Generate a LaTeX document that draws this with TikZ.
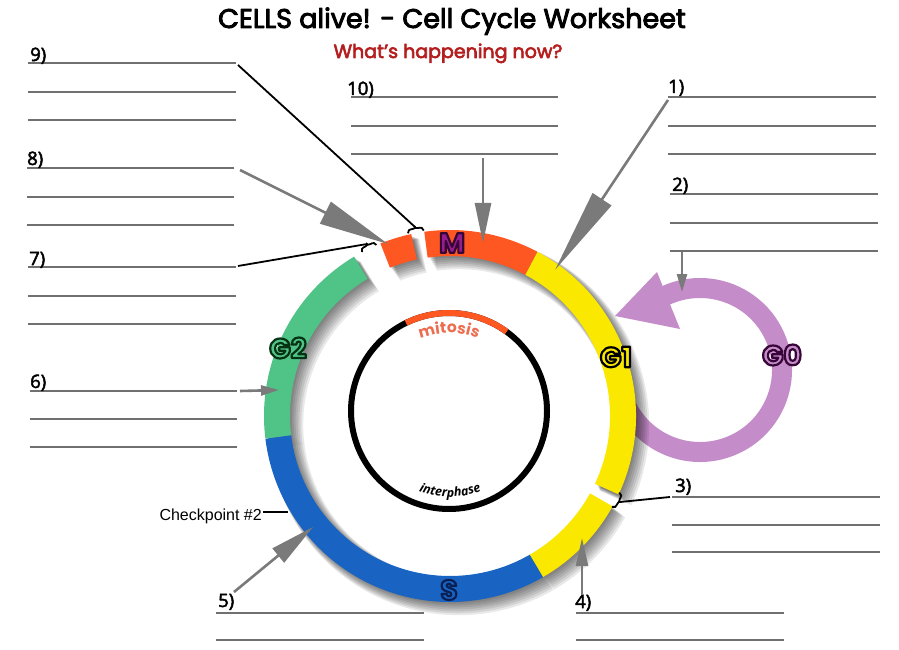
\documentclass[tikz,border=0pt]{standalone}
\usepackage{fontspec}
\setmainfont{Open Sans}
\newfontfamily\titlefont{Poppins}
\newfontfamily\numfont{Open Sans}
\newfontfamily\cpfont{Liberation Sans}
\usetikzlibrary{arrows.meta,decorations.text,calc}

\definecolor{ringY}{RGB}{250,232,0}
\definecolor{ringM}{RGB}{255,87,34}
\definecolor{ringG}{RGB}{80,196,135}
\definecolor{ringB}{RGB}{25,100,195}
\definecolor{ringP}{RGB}{196,140,200}
\definecolor{lineGray}{RGB}{112,112,112}
\definecolor{arrowGray}{RGB}{122,122,122}
\definecolor{subRed}{RGB}{180,30,30}
\definecolor{mitoOrange}{RGB}{235,110,80}
\definecolor{tagPurple}{RGB}{150,30,140}

% text painted with fill and a stroked outline: stroke rgb, stroke width, text
\newcommand\outlined[3]{%
  \special{pdf:literal direct #1 RG #2 w 1 j 2 Tr}#3\special{pdf:literal direct 0 Tr}}

\tikzset{
  ansline/.style={draw=lineGray, line width=1.6pt},
  numlbl/.style={anchor=base west, inner sep=0pt, text=black,
    font=\numfont\fontsize{18.5}{18.5}\selectfont},
  tag/.style={inner sep=0pt, font=\titlefont\bfseries\fontsize{28}{28}\selectfont},
  blackline/.style={draw=black, line width=1.8pt},
  ptr/.style 2 args={draw=arrowGray, line width=2.6pt,
    -{Triangle[length=#1,width=#2]}},
}

% small brace marking a gap in the ring, peak at #1, facing angle #2
\newcommand\gapbrace[2]{%
  \begin{scope}[shift={(#1)}, rotate=#2-90]
    \draw[blackline] (-8,-5) .. controls (-8,-2) and (-6,-1.5) .. (-2.5,-1.5)
      .. controls (-1,-1.5) and (0,-1) .. (0,0)
      .. controls (0,-1) and (1,-1.5) .. (2.5,-1.5)
      .. controls (6,-1.5) and (8,-2) .. (8,-5);
  \end{scope}}

\begin{document}
\begin{tikzpicture}[x=1pt,y=1pt]
\useasboundingbox (0,0) rectangle (899,649);
\fill[white] (0,0) rectangle (899,649);

% ---- headings
\node[anchor=base, inner sep=0pt, font=\titlefont\fontsize{27}{27}\selectfont]
  (title) at (452,621) {\outlined{0 0 0}{0.9}{CELLS alive! - Cell Cycle Worksheet}};
\node[anchor=base, inner sep=0pt, text=subRed, font=\titlefont\fontsize{19}{19}\selectfont]
  (subtitle) at (448,591) {\outlined{0.71 0.12 0.12}{0.6}{What’s happening now?}};

% ---- answer lines
\foreach \x/\xe/\ya/\yb/\yc in {28/236/586/557/529, 27/234/481/452/424,
    28/236/382/353/325, 30/237/258/230/202, 351/558/552/523/495,
    668/876/552/523/495, 670/878/455/426/398, 672/880/152/124/97}{
  \draw[ansline] (\x,\ya) -- (\xe,\ya);
  \draw[ansline] (\x,\yb) -- (\xe,\yb);
  \draw[ansline] (\x,\yc) -- (\xe,\yc);
}
\foreach \x/\xe in {576/784, 216/424}{
  \draw[ansline] (\x,36) -- (\xe,36);
  \draw[ansline] (\x,9) -- (\xe,9);
}

% ---- question numbers
\node[numlbl] (n9) at (30,588) {\outlined{0 0 0}{0.5}{9)}};
\node[numlbl] (n8) at (27,484) {\outlined{0 0 0}{0.5}{8)}};
\node[numlbl] (n7) at (29,384) {\outlined{0 0 0}{0.5}{7)}};
\node[numlbl] (n6) at (30,261) {\outlined{0 0 0}{0.5}{6)}};
\node[numlbl] (n10) at (347,554) {\outlined{0 0 0}{0.5}{10)}};
\node[numlbl] (n1) at (668,556) {\outlined{0 0 0}{0.5}{1)}};
\node[numlbl] (n2) at (672,458) {\outlined{0 0 0}{0.5}{2)}};
\node[numlbl] (n3) at (675,157) {\outlined{0 0 0}{0.5}{3)}};
\node[numlbl] (n4) at (575,41) {\outlined{0 0 0}{0.5}{4)}};
\node[numlbl] (n5) at (218,42) {\outlined{0 0 0}{0.5}{5)}};

% ---- G0 loop
\coordinate (g0c) at (700,279);
\draw[line width=20pt, ringP] ([shift={(200:82)}]g0c) arc[start angle=200, end angle=476, radius=82];
\coordinate (g0tip) at (615,333);
\coordinate (g0b1) at (657,377);
\coordinate (g0b2) at (680,320);
\fill[ringP] (g0tip) -- (g0b1) -- (g0b2) -- cycle;

% ---- main cycle ring, with a soft shadow to the lower right
\coordinate (ctr) at (450,233);
\foreach \k in {1,...,8}{
  \coordinate (sc) at ($(ctr)+(1.1*\k,-1.1*\k)$);
  \foreach \s/\e in {-25/62, 62/98, 102/112, 121/187, 187/300, 300/331}{
    \draw[line width=22pt+1.6*\k, black, opacity=0.085]
      ([shift={(\s:173)}]sc) arc[start angle=\s, end angle=\e, radius=173];
  }
}
\foreach \s/\e/\c in {-25/62/ringY, 62/98/ringM, 102/112/ringM, 121/187/ringG,
    187/300/ringB, 300/331/ringY}{
  \draw[line width=26pt, \c] ([shift={(\s:173)}]ctr) arc[start angle=\s, end angle=\e, radius=173];
}

% ---- inner cycle
\coordinate (ic) at (449,238);
\draw[line width=6pt, black] (ic) circle[radius=98];
\draw[line width=6pt, ringM] ([shift={(54:98)}]ic) arc[start angle=54, end angle=116, radius=98];
\path[decorate, decoration={text along path, text align=center, text color=mitoOrange,
    text={|\titlefont\bfseries\fontsize{15.5}{15.5}\selectfont|mitosis}}]
  ([shift={(114:78)}]ic) arc[start angle=114, end angle=66, radius=78];
\path[decorate, decoration={text along path, text align={fit to path}, text color=black,
    text={|\numfont\bfseries\itshape\fontsize{12.5}{12.5}\selectfont|interphase}}]
  ([shift={(249.5:86)}]ic) arc[start angle=249.5, end angle=290.5, radius=86];

% ---- phase names
\node[tag, text=tagPurple] (tM) at (452,406) {\outlined{0.22 0.02 0.22}{2.2}{M}};
\node[tag, text=ringG] (tG2) at (288,301) {\outlined{0.02 0.2 0.08}{2.2}{G2}};
\node[tag, text=ringY] (tG1) at (616,292) {\outlined{0 0 0}{2.2}{G1}};
\node[tag, text=ringB] (tS) at (449,59) {\outlined{0.04 0.12 0.33}{2.2}{S}};
\node[tag, text=ringP] (tG0) at (782,294) {\outlined{0.22 0.02 0.22}{2.2}{G0}};

% ---- black markers for the gaps
\coordinate (a9) at (238,584);  \coordinate (t9) at (415,422);
\draw[blackline] (a9) -- (t9);
\gapbrace{t9}{100}
\coordinate (a7) at (238,383);  \coordinate (t7) at (367,405);
\draw[blackline] (a7) -- (t7);
\gapbrace{t7}{116}
\coordinate (a3) at (670,152);  \coordinate (t3) at (620,147);
\draw[blackline] (a3) -- (t3);
\gapbrace{t3}{-27}

% ---- grey pointers
\coordinate (a8) at (240,479);  \coordinate (t8) at (388,405);
\draw[ptr={70pt}{24pt}] (a8) -- (t8);
\coordinate (a10) at (483,491); \coordinate (t10) at (483,406);
\draw[ptr={40pt}{16pt}] (a10) -- (t10);
\coordinate (a1) at (668,549);  \coordinate (t1) at (555,379);
\draw[ptr={85pt}{22pt}] (a1) -- (t1);
\coordinate (a2) at (682,397);  \coordinate (t2) at (682,357);
\draw[ptr={18pt}{10pt}] (a2) -- (t2);
\coordinate (a6) at (240,258);  \coordinate (t6) at (279,259);
\draw[ptr={18pt}{10pt}] (a6) -- (t6);
\coordinate (a4) at (582,54);   \coordinate (t4) at (582,111);
\draw[ptr={28pt}{12pt}] (a4) -- (t4);
\coordinate (a5) at (234,57);   \coordinate (t5) at (313,122);
\draw[ptr={45pt}{18pt}] (a5) -- (t5);

% ---- checkpoint note
\node[anchor=base east, inner sep=0pt, font=\cpfont\fontsize{16}{16}\selectfont]
  (cp) at (262,129) {Checkpoint \#2};
\coordinate (cpa) at (263,137); \coordinate (cpb) at (288,137);
\draw[blackline] (cpa) -- (cpb);
\end{tikzpicture}
\end{document}
